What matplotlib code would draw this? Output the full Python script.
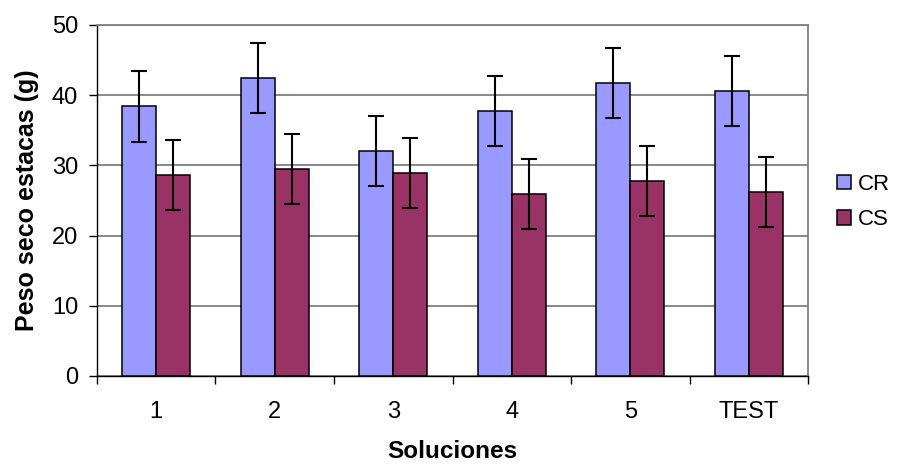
import matplotlib.pyplot as plt
import numpy as np

plt.rcParams['font.family'] = ['Liberation Sans', 'DejaVu Sans']

categories = ["1", "2", "3", "4", "5", "TEST"]
cr_values = [38.4, 42.5, 32.0, 37.8, 41.7, 40.6]
cs_values = [28.6, 29.5, 28.9, 25.9, 27.8, 26.2]
cr_err = [5, 5, 5, 5, 5, 5]
cs_err = [5, 5, 5, 5, 5, 5]

fig = plt.figure(figsize=(8.98, 4.68), dpi=100)
ax = fig.add_axes([0.108, 0.1966, 0.7918, 0.75])

x = np.arange(len(categories))
w = 1 / 3.5
err_kw = dict(ecolor='black', elinewidth=1.5, capsize=5.5, capthick=1.5)
ax.bar(x - w / 2, cr_values, w, yerr=cr_err, color='#9999FF', edgecolor='black',
       linewidth=1.1, label='CR', zorder=3, error_kw=err_kw)
ax.bar(x + w / 2, cs_values, w, yerr=cs_err, color='#993366', edgecolor='black',
       linewidth=1.1, label='CS', zorder=3, error_kw=err_kw)

ax.set_xlim(-0.5, len(categories) - 0.5)
ax.set_ylim(0, 50)
ax.set_yticks(range(0, 51, 10))
ax.yaxis.grid(True, color='#808080', linewidth=1.3, zorder=0)
ax.set_axisbelow(True)

ax.set_xticks(x)
ax.set_xticklabels(categories, fontsize=17)
ax.tick_params(axis='x', which='major', length=0, pad=18)
ax.set_xticks(np.arange(-0.5, len(categories)), minor=True)
ax.tick_params(axis='x', which='minor', length=5.5, width=1, direction='out')
ax.tick_params(axis='y', labelsize=17, length=5.5, width=1, direction='out', pad=8)

for s in ['left', 'bottom']:
    ax.spines[s].set_color('black')
    ax.spines[s].set_linewidth(1)
for s in ['top', 'right']:
    ax.spines[s].set_color('#808080')
    ax.spines[s].set_linewidth(1.3)

ax.set_xlabel('Soluciones', fontsize=17.5, fontweight='bold', labelpad=12)
ax.set_ylabel('Peso seco estacas (g)', fontsize=18, fontweight='bold', labelpad=9)

fig.legend(loc='center left', bbox_to_anchor=(0.932, 0.568), frameon=False,
           fontsize=16, handlelength=0.64, handleheight=0.64, labelspacing=0.65,
           handletextpad=0.32, borderaxespad=0, borderpad=0)

fig.savefig('out.png', dpi=100)
